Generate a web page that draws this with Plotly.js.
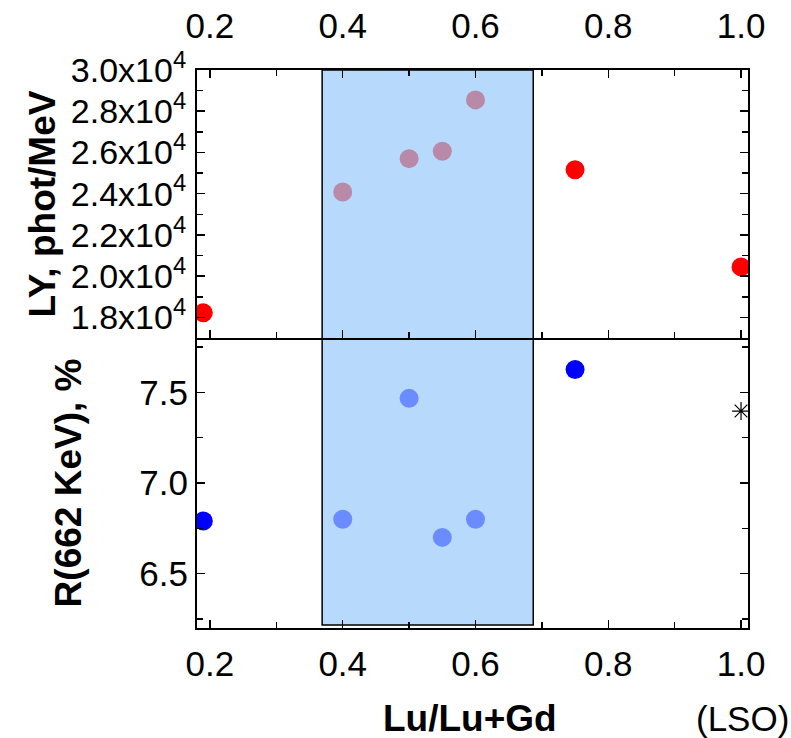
<!DOCTYPE html>
<html>
<head>
<meta charset="utf-8">
<script src="https://cdn.plot.ly/plotly-3.0.1.min.js"></script>
<style>html,body{margin:0;padding:0;background:#fff;}#chart{width:791px;height:738px;}</style>
</head>
<body>
<div id="chart"></div>
<script>
// Light yield (top panel), phot/MeV
const lyOutX = [0.19, 0.75, 1.0];
const lyOutY = [18220, 25160, 20450];
const lyInX = [0.4, 0.5, 0.55, 0.6];
const lyInY = [24080, 25700, 26060, 28550];
// Energy resolution (bottom panel), %
const rOutX = [0.19, 0.75];
const rOutY = [6.79, 7.626];
const rInX = [0.4, 0.5, 0.55, 0.6];
const rInY = [6.80, 7.467, 6.70, 6.80];
const lsoX = [1.0];
const lsoY = [7.397];
// Shaded composition region
const bandX = [0.369, 0.687];
// Tick labels
const xTicks = [0.2, 0.4, 0.6, 0.8, 1.0];
const xTickText = ["0.2", "0.4", "0.6", "0.8", "1.0"];
const lyTicks = [18000, 20000, 22000, 24000, 26000, 28000, 30000];
const lyTickText = ["1.8x10<sup>4</sup>", "2.0x10<sup>4</sup>", "2.2x10<sup>4</sup>", "2.4x10<sup>4</sup>", "2.6x10<sup>4</sup>", "2.8x10<sup>4</sup>", "3.0x10<sup>4</sup>"];
const rTicks = [6.5, 7.0, 7.5];
const rTickText = ["6.5", "7.0", "7.5"];

const F = "Arial, 'Liberation Sans', sans-serif";
const tickFont = {family: F, size: 35, color: "#000"};
const lyTickFont = {family: F, size: 34, color: "#000"};
const titleFont = {family: F, size: 37, color: "#000", weight: "bold"};
const MS = 19;

const traces = [
  {x: lyOutX, y: lyOutY, xaxis: "x2", yaxis: "y", mode: "markers", type: "scatter",
   marker: {color: "#ff0000", size: MS}},
  {x: lyInX, y: lyInY, xaxis: "x2", yaxis: "y", mode: "markers", type: "scatter",
   marker: {color: "#b88aa8", size: MS}},
  {x: rOutX, y: rOutY, xaxis: "x", yaxis: "y2", mode: "markers", type: "scatter",
   marker: {color: "#0000ff", size: MS}},
  {x: rInX, y: rInY, xaxis: "x", yaxis: "y2", mode: "markers", type: "scatter",
   marker: {color: "#6b8cff", size: MS}},
  {x: lsoX, y: lsoY, xaxis: "x", yaxis: "y2", mode: "markers", type: "scatter",
   marker: {symbol: "asterisk-open", size: 15, color: "#000", line: {color: "#000", width: 1.2}}}
];

const xr = [0.1805, 1.0105];
const minorTick = {ticks: "inside", ticklen: 6, tickwidth: 1.5, tickcolor: "#000"};
const common = {showline: true, linecolor: "#000", linewidth: 2, ticks: "inside", ticklen: 8,
  tickwidth: 1.5, tickcolor: "#000", showgrid: false, zeroline: false, tickfont: tickFont,
  fixedrange: true};

const layout = {
  width: 791, height: 738,
  margin: {l: 197, r: 43, t: 70, b: 110},
  paper_bgcolor: "#fff", plot_bgcolor: "rgba(0,0,0,0)",
  showlegend: false,
  font: {family: F, color: "#000"},
  xaxis: Object.assign({}, common, {
    anchor: "y2", range: xr, tickvals: xTicks, ticktext: xTickText, mirror: false,
    ticklabelstandoff: 4,
    minor: Object.assign({dtick: 0.1, tick0: 0.1}, minorTick)
  }),
  xaxis2: Object.assign({}, common, {
    anchor: "y", side: "top", range: xr, tickvals: xTicks, ticktext: xTickText, mirror: "allticks",
    ticklabelstandoff: 16,
    minor: Object.assign({dtick: 0.1, tick0: 0.1}, minorTick)
  }),
  yaxis: Object.assign({}, common, {
    domain: [0.5197, 1], anchor: "x2", range: [17000, 30000], tickfont: lyTickFont,
    tickvals: lyTicks, ticktext: lyTickText, mirror: "allticks", ticklabelstandoff: 2,
    minor: Object.assign({dtick: 1000, tick0: 17000}, minorTick),
    title: {text: "LY, phot/MeV", font: titleFont, standoff: 4}
  }),
  yaxis2: Object.assign({}, common, {
    domain: [0, 0.5197], anchor: "x", range: [6.2, 7.8],
    tickvals: rTicks, ticktext: rTickText, mirror: "allticks",
    minor: Object.assign({dtick: 0.25, tick0: 6.25}, minorTick),
    title: {text: "R(662 KeV), %", font: titleFont, standoff: 46}
  }),
  shapes: [
    {type: "rect", xref: "x", yref: "paper", x0: bandX[0], x1: bandX[1], y0: 0.0054, y1: 1,
     fillcolor: "#b7d9fc", line: {color: "#000", width: 1.5}, layer: "below"}
  ],
  annotations: [
    {text: "Lu/Lu+Gd", xref: "paper", yref: "paper", x: 0.495, y: -0.162, xanchor: "center", yanchor: "middle",
     showarrow: false, font: titleFont},
    {text: "(LSO)", xref: "paper", yref: "paper", x: 1.078, y: -0.162, xanchor: "right", yanchor: "middle",
     showarrow: false, font: {family: F, size: 35, color: "#000"}}
  ]
};

Plotly.newPlot("chart", traces, layout, {displayModeBar: false, staticPlot: true});
</script>
</body>
</html>
